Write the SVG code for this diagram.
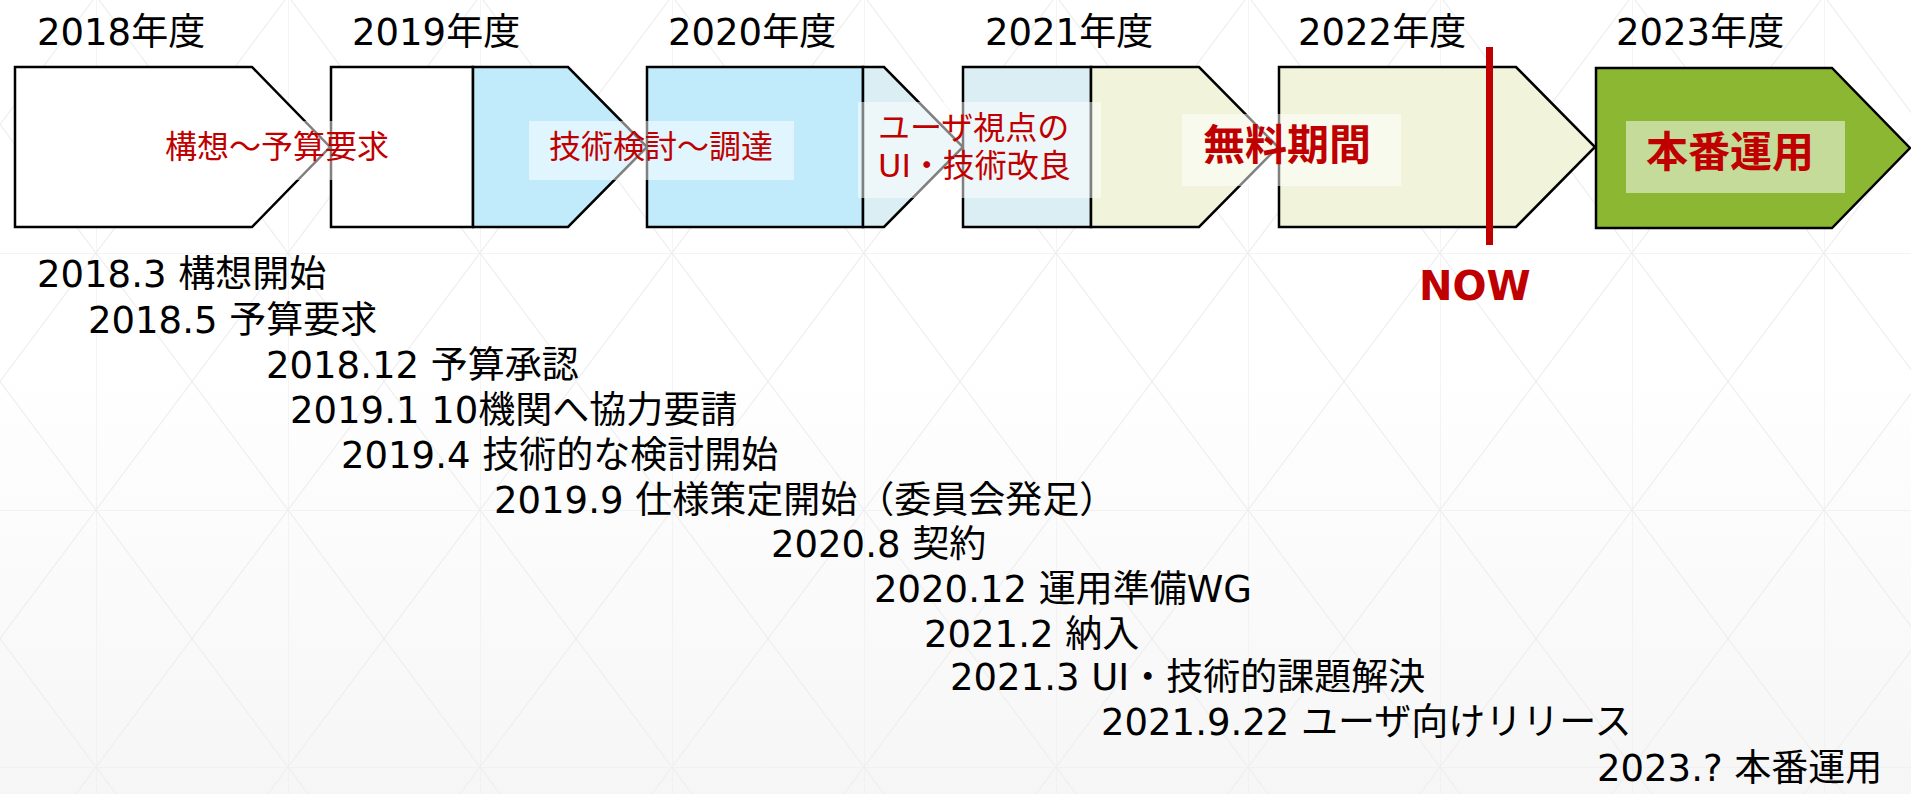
<svg xmlns="http://www.w3.org/2000/svg" width="1911" height="794" viewBox="0 0 1911 794">
  <defs>
    <linearGradient id="bg" x1="0" y1="0" x2="0" y2="1">
      <stop offset="0" stop-color="#ffffff"/>
      <stop offset="0.45" stop-color="#ffffff"/>
      <stop offset="1" stop-color="#f6f6f6"/>
    </linearGradient>
    <pattern id="grid" patternUnits="userSpaceOnUse" x="96" y="-4" width="192" height="257">
      <path d="M0,0 V257 M0,0 H192 M0,0 L192,257 M192,0 L0,257" fill="none" stroke="#efefef" stroke-width="1.3"/>
    </pattern>
  </defs>
  <style>
    .blk { stroke: #000000; stroke-width: 2.5; stroke-linejoin: miter; }
    .white { fill: #ffffff; }
    .blue { fill: #c1ebfa; }
    .teal { fill: #dbeef3; }
    .olive { fill: #f1f4db; }
    .green { fill: #8bb733; }
    .veil { fill: #ffffff; fill-opacity: 0.5; }
    .lbl { font-family: "DejaVu Sans", "Noto Sans CJK JP", sans-serif; font-size: 32px; fill: #c00000; }
    .lblb { font-family: "Noto Sans CJK JP", sans-serif; font-size: 42px; font-weight: bold; fill: #c00000; }
    .year { font-family: "DejaVu Sans", "Noto Sans CJK JP", sans-serif; font-size: 37px; fill: #000000; }
    .ev { font-family: "DejaVu Sans", "Noto Sans CJK JP", sans-serif; font-size: 37px; fill: #000000; }
    .now { font-family: "DejaVu Sans", "Liberation Sans", sans-serif; font-size: 40px; font-weight: bold; fill: #c00000; }
  </style>

  <rect x="0" y="0" width="1911" height="794" fill="url(#bg)"/>
  <rect x="0" y="0" width="1911" height="794" fill="url(#grid)"/>

  <g id="year-labels">
    <text class="year" x="37" y="45">2018年度</text>
    <text class="year" x="352" y="45">2019年度</text>
    <text class="year" x="668" y="45">2020年度</text>
    <text class="year" x="985" y="45">2021年度</text>
    <text class="year" x="1298" y="45">2022年度</text>
    <text class="year" x="1616" y="45">2023年度</text>
  </g>

  <g id="fy2018">
    <path class="blk white" d="M15,67 H252 L330,147 L252,227 H15 Z"/>
  </g>
  <g id="fy2019">
    <rect class="blk white" x="331" y="67" width="142" height="160"/>
    <path class="blk blue" d="M473,67 H568 L647,147 L568,227 H473 Z"/>
  </g>
  <g id="fy2020">
    <rect class="blk blue" x="647" y="67" width="216" height="160"/>
    <path class="blk teal" d="M863,67 H884 L963,147 L884,227 H863 Z"/>
  </g>
  <g id="fy2021">
    <rect class="blk teal" x="963" y="67" width="128" height="160"/>
    <path class="blk olive" d="M1091,67 H1199 L1278,147 L1199,227 H1091 Z"/>
  </g>
  <g id="fy2022">
    <path class="blk olive" d="M1279,67 H1516 L1595,147 L1516,227 H1279 Z"/>
  </g>
  <g id="fy2023">
    <path class="blk green" d="M1596,68 H1832 L1910,148 L1832,228 H1596 Z"/>
  </g>

  <g id="phase-labels">
    <g id="label-kousou">
      <rect class="veil" x="145" y="121" width="265" height="59"/>
      <text class="lbl" x="277" y="158" text-anchor="middle">構想～予算要求</text>
    </g>
    <g id="label-gijutsu">
      <rect class="veil" x="529" y="121" width="265" height="59"/>
      <text class="lbl" x="661" y="158" text-anchor="middle">技術検討～調達</text>
    </g>
    <g id="label-ui">
      <rect class="veil" x="858" y="102" width="243" height="96"/>
      <text class="lbl" x="878" y="139">ユーザ視点の</text>
      <text class="lbl" x="878" y="177">UI・技術改良</text>
    </g>
    <g id="label-muryou">
      <rect class="veil" x="1182" y="114" width="219" height="72"/>
      <text class="lblb" x="1287" y="160" text-anchor="middle">無料期間</text>
    </g>
    <g id="label-honban">
      <rect class="veil" x="1626" y="121" width="219" height="72"/>
      <text class="lblb" x="1730" y="167" text-anchor="middle">本番運用</text>
    </g>
  </g>

  <g id="now-marker">
    <rect x="1486" y="47" width="7" height="198" fill="#c00000"/>
    <text class="now" x="1419" y="300">NOW</text>
  </g>

  <g id="connectors"></g>

  <g id="events">
    <text class="ev" x="37" y="287">2018.3 構想開始</text>
    <text class="ev" x="88" y="333">2018.5 予算要求</text>
    <text class="ev" x="266" y="378">2018.12 予算承認</text>
    <text class="ev" x="290" y="423">2019.1 10機関へ協力要請</text>
    <text class="ev" x="341" y="468">2019.4 技術的な検討開始</text>
    <text class="ev" x="494" y="513">2019.9 仕様策定開始（委員会発足）</text>
    <text class="ev" x="771" y="557">2020.8 契約</text>
    <text class="ev" x="874" y="602">2020.12 運用準備WG</text>
    <text class="ev" x="924" y="647">2021.2 納入</text>
    <text class="ev" x="950" y="690">2021.3 UI・技術的課題解決</text>
    <text class="ev" x="1101" y="735">2021.9.22 ユーザ向けリリース</text>
    <text class="ev" x="1597" y="781">2023.? 本番運用</text>
  </g>
</svg>
